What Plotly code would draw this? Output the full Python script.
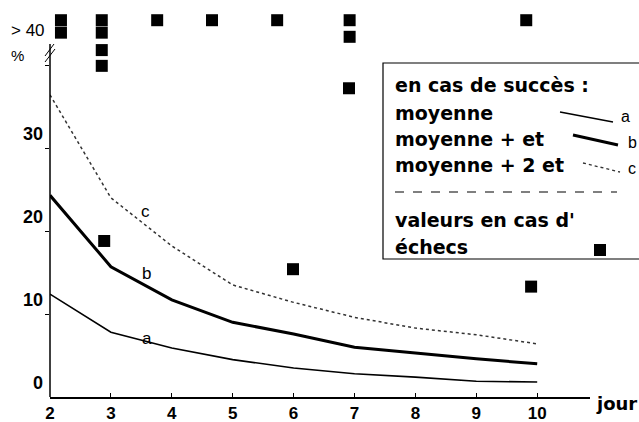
import plotly.graph_objects as go

# ---- data ----
jours = [2, 3, 4, 5, 6, 7, 8, 9, 10]
moyenne = [12.4, 7.8, 5.9, 4.5, 3.5, 2.8, 2.4, 1.9, 1.8]          # a
moyenne_et = [24.3, 15.7, 11.7, 9.0, 7.6, 6.0, 5.3, 4.6, 4.0]      # b
moyenne_2et = [36.4, 24.0, 18.2, 13.5, 11.4, 9.6, 8.3, 7.5, 6.4]   # c

echec_x = [2.89, 5.99, 6.91, 9.9]
echec_y = [18.8, 15.4, 37.2, 13.3]
# failures above 40 % (drawn above the axis break)
echec40_x = [2.18, 2.18, 2.85, 2.85, 2.85, 2.85, 3.76, 4.66, 5.73, 6.92, 6.92, 9.82]
echec40_y = [45.4, 43.9, 45.4, 43.9, 41.8, 39.9, 45.4, 45.4, 45.4, 45.4, 43.4, 45.4]

y_tick_vals = [0, 10, 20, 30]
y_tick_text = ["0", "10", "20", "30"]
x_tick_vals = [2, 3, 4, 5, 6, 7, 8, 9, 10]

W, H = 639, 422
ML, MR, MT, MB = 50, 639 - 590, 10, 422 - 397


def px(x):  # screen x -> paper x
    return (x - ML) / (W - ML - MR)


def py(y):  # screen y -> paper y
    return (H - MB - y) / (H - MT - MB)


TXT = "DejaVu Sans"
NUM = "Liberation Sans"

fig = go.Figure()
fig.add_trace(go.Scatter(x=jours, y=moyenne, mode="lines",
                         line=dict(color="black", width=1.6), showlegend=False))
fig.add_trace(go.Scatter(x=jours, y=moyenne_et, mode="lines",
                         line=dict(color="black", width=3), showlegend=False))
fig.add_trace(go.Scatter(x=jours, y=moyenne_2et, mode="lines",
                         line=dict(color="#333", width=1.5, dash="dot"), showlegend=False))
fig.add_trace(go.Scatter(x=echec_x, y=echec_y, mode="markers",
                         marker=dict(symbol="square", size=12, color="black"), showlegend=False))
fig.add_trace(go.Scatter(x=echec40_x, y=echec40_y, mode="markers", cliponaxis=False,
                         marker=dict(symbol="square", size=12, color="black"), showlegend=False))


def label(x, y, text, font, xanchor="center"):
    return dict(x=px(x), y=py(y), xref="paper", yref="paper", text=text, showarrow=False,
                xanchor=xanchor, yanchor="middle", font=font)


ann = []
# curve labels
for t, xx, yy in [("a", 3.59, 7.1), ("b", 3.58, 14.9), ("c", 3.56, 22.3)]:
    ann.append(dict(x=xx, y=yy, text=t, showarrow=False, xref="x", yref="y",
                    xanchor="center", yanchor="middle",
                    font=dict(family=NUM, size=17, color="black")))
# y tick labels (placed slightly above the ticks as in the original)
for v, t in zip(y_tick_vals, y_tick_text):
    ann.append(dict(x=px(45), y=v, xref="paper", yref="y", yshift=14, text=t,
                    showarrow=False, xanchor="right", yanchor="middle",
                    font=dict(family=NUM, size=18, color="black", weight="bold")))
ann.append(label(9, 31, "> 40", dict(family=NUM, size=17, color="black"), xanchor="left"))
ann.append(label(17, 56, "%", dict(family=NUM, size=15, color="black")))
ann.append(label(616, 403, "jour", dict(family=TXT, size=18, color="black", weight="bold")))
# legend texts
for t, yy in [("en cas de succès :", 85), ("moyenne", 113), ("moyenne + et", 139),
              ("moyenne + 2 et", 165), ("valeurs en cas d'", 220), ("échecs", 247)]:
    ann.append(label(393, yy, t, dict(family=TXT, size=19, color="black", weight="bold"),
                     xanchor="left"))
for t, xx, yy in [("a", 625, 117), ("b", 632, 142), ("c", 632, 168)]:
    ann.append(label(xx, yy, t, dict(family=NUM, size=16, color="black")))

shapes = [
    # y axis line (stops at the break)
    dict(type="line", xref="paper", yref="paper", x0=0, x1=0, y0=0, y1=py(44),
         line=dict(color="black", width=1.5)),
    # axis break marks
    dict(type="line", xref="paper", yref="paper", x0=px(45), x1=px(54), y0=py(56), y1=py(44),
         line=dict(color="black", width=1)),
    dict(type="line", xref="paper", yref="paper", x0=px(45), x1=px(55), y0=py(62), y1=py(49),
         line=dict(color="black", width=1)),
    # legend box
    dict(type="rect", xref="paper", yref="paper", x0=px(383), x1=px(665), y0=py(259), y1=py(63),
         line=dict(color="black", width=1.2)),
    dict(type="line", xref="paper", yref="paper", x0=px(395), x1=px(617), y0=py(192), y1=py(192),
         line=dict(color="black", width=1.2, dash="dash")),
    # legend samples
    dict(type="line", xref="paper", yref="paper", x0=px(560), x1=px(613), y0=py(112), y1=py(122),
         line=dict(color="black", width=1.5)),
    dict(type="line", xref="paper", yref="paper", x0=px(573), x1=px(618), y0=py(135), y1=py(145),
         line=dict(color="black", width=3)),
    dict(type="line", xref="paper", yref="paper", x0=px(583), x1=px(620), y0=py(163), y1=py(172),
         line=dict(color="#333", width=1.3, dash="dot")),
    dict(type="rect", xref="paper", yref="paper", x0=px(594), x1=px(606), y0=py(256), y1=py(244),
         fillcolor="black", line=dict(width=0)),
]

fig.update_layout(
    width=W, height=H,
    margin=dict(l=ML, r=MR, t=MT, b=MB, autoexpand=False),
    paper_bgcolor="white", plot_bgcolor="white",
    annotations=ann, shapes=shapes,
    xaxis=dict(range=[2, 10.867], tickvals=x_tick_vals, ticks="inside", ticklen=4,
               tickcolor="black", showline=True, linecolor="black", linewidth=1.5,
               showgrid=False, zeroline=False, automargin=False, ticklabelstandoff=0,
               tickfont=dict(family=NUM, size=17, color="black", weight="bold")),
    yaxis=dict(range=[0, 46.63], tickvals=[10, 20, 30, 40], ticks="outside", ticklen=4,
               tickcolor="black", showticklabels=False, showline=False, automargin=False,
               showgrid=False, zeroline=False),
)

fig.write_html("out.html", config={"displayModeBar": False},
               post_script="document.body.style.margin='0';document.body.style.overflow='hidden';")
